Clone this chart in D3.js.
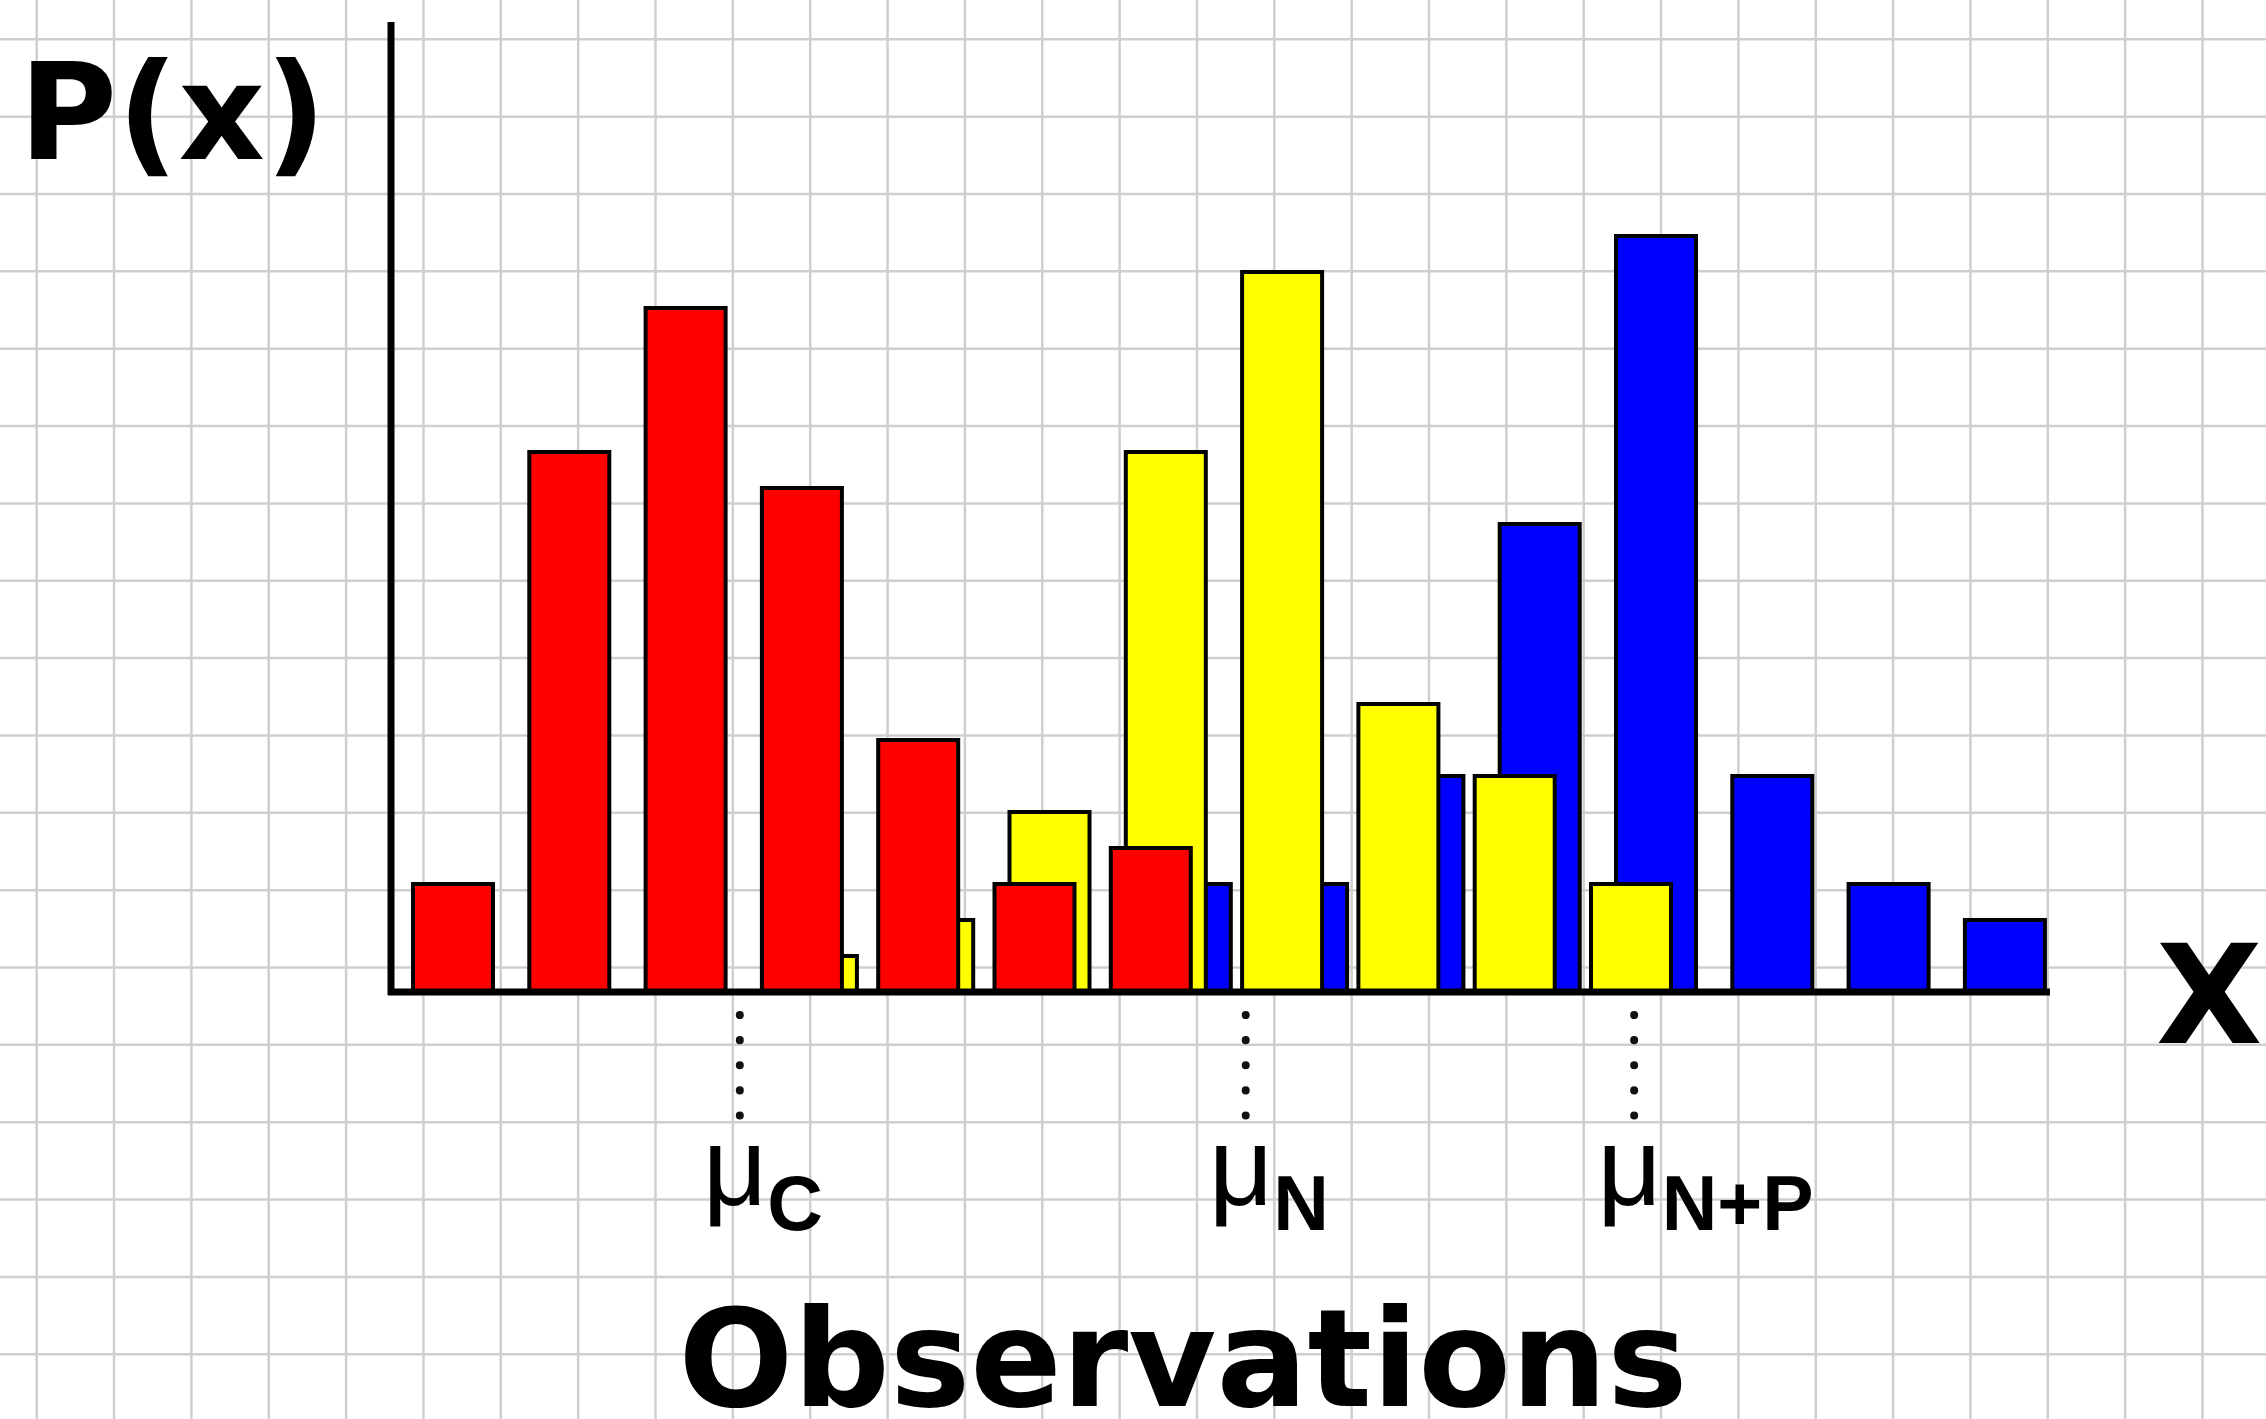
<!DOCTYPE html>
<html>
<head>
<meta charset="utf-8">
<script src="https://cdn.jsdelivr.net/npm/d3@7"></script>
<style>
  body { margin: 0; background: #fff; }
  svg { display: block; }
</style>
</head>
<body>
<script>
let w = 2266;
let h = 1419;

// bins (slot index on the x axis) and P(x) values in grid units
const binsC = [0, 1, 2, 3, 4, 5, 6];
const valuesC = [3, 15, 19, 14, 7, 3, 4];
const binsN = [3, 4, 5, 6, 7, 8, 9, 10];
const valuesN = [1, 2, 5, 15, 20, 8, 6, 3];
const binsNP = [6, 7, 8, 9, 10, 11, 12, 13];
const valuesNP = [3, 3, 6, 13, 21, 6, 3, 2];

// means, in the same slot units
const meanNames = ["C", "N", "N+P"];
const meanPositions = [2.81, 7.16, 10.5];

//create our svg
let svg = d3.select("body").append("svg").attr("width", w).attr("height", h);

svg.append("rect").attr("width", w).attr("height", h).attr("fill", "#fff");

//graph paper
let grid = svg.append("g").attr("stroke", "#cfcfcf").attr("stroke-width", 2.5);
grid.selectAll(".gv")
  .data(d3.range(0, 30))
  .enter()
  .append("line")
  .attr("x1", d => 36.7 + d * 77.35)
  .attr("x2", d => 36.7 + d * 77.35)
  .attr("y1", 0)
  .attr("y2", h);
grid.selectAll(".gh")
  .data(d3.range(0, 19))
  .enter()
  .append("line")
  .attr("y1", d => 39.3 + d * 77.35)
  .attr("y2", d => 39.3 + d * 77.35)
  .attr("x1", 0)
  .attr("x2", w);

let x = d3.scaleLinear().domain([0, 14]).range([413, 413 + 116.3 * 14]);
let y = d3.scaleLinear().domain([0, 27]).range([992, 20]);
let barW = 80;

function drawBars(bins, values, color, offset) {
  const data = bins.map((b, i) => ({ bin: b, p: values[i] }));
  svg.append("g")
    .selectAll("rect")
    .data(data)
    .enter()
    .append("rect")
    .attr("x", d => x(d.bin) + offset)
    .attr("y", d => y(d.p))
    .attr("width", barW)
    .attr("height", d => y(0) - y(d.p))
    .attr("fill", color)
    .attr("stroke", "#000")
    .attr("stroke-width", 4);
}

// back to front
drawBars(binsNP, valuesNP, "#0000ff", 40);
drawBars(binsN, valuesN, "#ffff00", 15);
drawBars(binsC, valuesC, "#ff0000", 0);

//axes
svg.append("line")
  .attr("x1", 391).attr("x2", 391)
  .attr("y1", 22).attr("y2", y(0) + 3)
  .attr("stroke", "#000").attr("stroke-width", 7);
svg.append("line")
  .attr("x1", 388).attr("x2", 2050)
  .attr("y1", y(0)).attr("y2", y(0))
  .attr("stroke", "#000").attr("stroke-width", 7);

//mean markers
let means = svg.selectAll(".mean")
  .data(meanNames.map((n, i) => ({ name: n, pos: meanPositions[i] })))
  .enter()
  .append("g");

means.append("line")
  .attr("x1", d => x(d.pos)).attr("x2", d => x(d.pos))
  .attr("y1", 1015).attr("y2", 1117)
  .attr("stroke", "#111")
  .attr("stroke-width", 8)
  .attr("stroke-linecap", "round")
  .attr("stroke-dasharray", "0.1 25");

let lbl = means.append("text")
  .attr("x", d => x(d.pos) - 37)
  .attr("y", 1205)
  .attr("font-family", "Liberation Sans, Arial, sans-serif")
  .attr("fill", "#000");
lbl.append("tspan").attr("font-size", 112).attr("font-weight", "normal").text("μ");
lbl.append("tspan").attr("font-size", 77).attr("font-weight", "bold").attr("dy", 25).text(d => d.name);

//labels
svg.append("text")
  .attr("x", 19).attr("y", 159)
  .attr("font-family", "DejaVu Sans")
  .attr("font-weight", "bold")
  .attr("font-size", 134)
  .text("P(x)");

svg.append("text")
  .attr("x", 2156).attr("y", 1043)
  .attr("font-family", "DejaVu Sans")
  .attr("font-weight", "bold")
  .attr("font-size", 138)
  .text("X");

svg.append("text")
  .attr("x", 1183).attr("y", 1406)
  .attr("text-anchor", "middle")
  .attr("font-family", "DejaVu Sans")
  .attr("font-weight", "bold")
  .attr("font-size", 135)
  .text("Observations");
</script>
</body>
</html>
